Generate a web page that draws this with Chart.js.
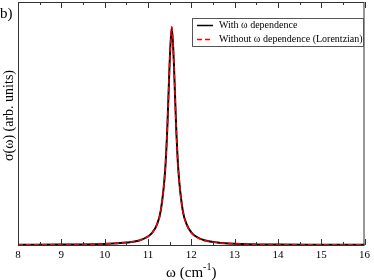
<!DOCTYPE html>
<html>
<head>
<meta charset="utf-8">
<script src="https://cdn.jsdelivr.net/npm/chart.js@4"></script>
<style>
  html, body { margin: 0; padding: 0; background: #fff; }
  #wrap { width: 374px; height: 280px; }
</style>
</head>
<body>
<div id="wrap"><canvas id="myChart" width="374" height="280"></canvas></div>
<script>
// frequency grid (cm^-1)
const omega = [8, 9, 10, 10.5, 10.8, 11.0, 11.1, 11.2, 11.3, 11.4, 11.45, 11.5, 11.55, 11.6, 11.65, 11.7, 11.8, 11.9, 12.0, 12.1, 12.3, 12.6, 13, 14, 15, 16];
// sigma(omega), arb. units
const withDep    = [0.001, 0.002, 0.005, 0.011, 0.021, 0.039, 0.057, 0.09, 0.162, 0.35, 0.548, 0.829, 1.0, 0.829, 0.548, 0.35, 0.162, 0.092, 0.058, 0.04, 0.022, 0.012, 0.006, 0.002, 0.001, 0.0006];
const withoutDep = [0.001, 0.002, 0.005, 0.011, 0.021, 0.0385, 0.056, 0.09, 0.162, 0.35, 0.548, 0.829, 1.0, 0.829, 0.548, 0.35, 0.162, 0.09, 0.056, 0.0385, 0.021, 0.011, 0.0057, 0.002, 0.001, 0.0006];
const xTicks = [8, 9, 10, 11, 12, 13, 14, 15, 16];
const seriesNames = ['With \u03c9 dependence', 'Without \u03c9 dependence (Lorentzian)'];

const frameColor = '#333';
const serif = '"Liberation Serif", "DejaVu Serif", serif';

// frame, inward ticks, titles and legend
const decor = {
  id: 'decor',
  afterDraw(chart) {
    const c = chart.ctx, a = chart.chartArea, xs = chart.scales.x;
    c.save();
    c.strokeStyle = frameColor;
    c.lineWidth = 1;
    c.strokeRect(a.left + 0.5, a.top + 0.5, a.right - a.left - 1, a.bottom - a.top);
    // ticks top and bottom
    for (let v = 8; v <= 16; v += 0.5) {
      const px = Math.round(xs.getPixelForValue(v)) + 0.5;
      const len = (v % 1 === 0) ? 6 : 3;
      c.beginPath();
      c.moveTo(px, a.bottom); c.lineTo(px, a.bottom - len);
      c.moveTo(px, a.top); c.lineTo(px, a.top + len);
      c.stroke();
    }
    c.fillStyle = '#000';
    // panel label
    c.font = '15px ' + serif;
    c.textAlign = 'left'; c.textBaseline = 'middle';
    c.fillText('b)', 0, 14);
    // x title with superscript
    c.textBaseline = 'alphabetic';
    const t1 = '\u03c9 (cm', t2 = '-1', t3 = ')';
    c.font = '15px ' + serif; const w1 = c.measureText(t1).width;
    c.font = '10px ' + serif; const w2 = c.measureText(t2).width;
    c.font = '15px ' + serif; const w3 = c.measureText(t3).width;
    let x0 = (a.left + a.right) / 2 - (w1 + w2 + w3) / 2;
    c.fillText(t1, x0, 277);
    c.font = '10px ' + serif; c.fillText(t2, x0 + w1, 270);
    c.font = '15px ' + serif; c.fillText(t3, x0 + w1 + w2, 277);
    // y title
    c.save();
    c.translate(9, (a.top + a.bottom) / 2 - 8);
    c.rotate(-Math.PI / 2);
    c.textAlign = 'center'; c.textBaseline = 'middle';
    c.font = '14px ' + serif;
    c.fillText('\u03c3(\u03c9) (arb. units)', 0, 0);
    c.restore();
    // legend box
    c.fillStyle = '#fff';
    c.fillRect(192, 18, 171, 28);
    c.strokeStyle = '#555';
    c.strokeRect(192.5, 18.5, 171, 28);
    c.font = '10px ' + serif;
    c.textAlign = 'left'; c.textBaseline = 'middle';
    c.lineWidth = 1.5;
    c.strokeStyle = '#000'; c.setLineDash([]);
    c.beginPath(); c.moveTo(197, 25.5); c.lineTo(213, 25.5); c.stroke();
    c.strokeStyle = '#ff0000'; c.setLineDash([5, 3]);
    c.beginPath(); c.moveTo(197, 39.5); c.lineTo(213, 39.5); c.stroke();
    c.setLineDash([]);
    c.fillStyle = '#000';
    c.fillText(seriesNames[0], 219, 25);
    c.fillText(seriesNames[1], 219, 39);
    c.restore();
  }
};

new Chart(document.getElementById('myChart'), {
  type: 'line',
  data: {
    datasets: [{
      label: seriesNames[0],
      data: omega.map((x, i) => ({ x: x, y: withDep[i] })),
      borderColor: '#000',
      borderWidth: 2,
      pointRadius: 0,
      order: 2,
      cubicInterpolationMode: 'monotone'
    }, {
      label: seriesNames[1],
      data: omega.map((x, i) => ({ x: x, y: withoutDep[i] })),
      borderColor: '#ff0000',
      borderWidth: 1.5,
      borderDash: [5, 3],
      pointRadius: 0,
      order: 1,
      cubicInterpolationMode: 'monotone'
    }]
  },
  options: {
    responsive: false,
    animation: false,
    layout: { padding: { left: 18, right: 6, top: 2, bottom: 0 } },
    plugins: {
      legend: { display: false },
      tooltip: { enabled: false }
    },
    scales: {
      x: {
        type: 'linear',
        min: 8, max: 16,
        afterBuildTicks: (s) => { s.ticks = xTicks.map(v => ({ value: v })); },
        afterFit: (s) => { s.height = 35; },
        grid: { display: false, drawTicks: false },
        border: { display: false },
        ticks: { color: '#000', padding: 4, font: { family: serif, size: 11 } }
      },
      y: {
        min: 0, max: 1.115,
        afterFit: (s) => { s.width = 0; },
        grid: { display: false, drawTicks: false },
        border: { display: false },
        ticks: { display: false }
      }
    }
  },
  plugins: [decor]
});
</script>
</body>
</html>
